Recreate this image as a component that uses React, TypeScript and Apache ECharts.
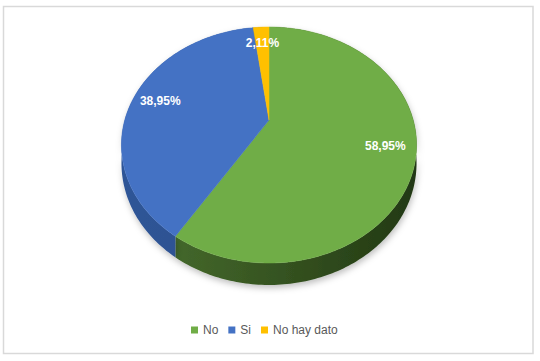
import React, { useEffect, useRef } from "react";
import * as echarts from "echarts";

const categories = ["No", "Si", "No hay dato"];
const values = [58.95, 38.95, 2.11];
const topColors = ["#70ad47", "#4472c4", "#ffc000"];
const sideColorsLeft = ["#4b7230", "#2f5597", "#c99700"];
const sideColorsRight = ["#223813", "#27487f", "#a07800"];

// projection parameters (perspective disc)
const CX = 269;
const CY = 120;
const AX = 144.2;
const BY = 112.7;
const K = -0.212;
const DEPTH = 17.3;

function proj(phiDeg: number, r: number, dz: number): number[] {
  const p = (phiDeg * Math.PI) / 180;
  const u = r * Math.sin(p);
  const v = -r * Math.cos(p);
  const den = 1 + K * v;
  return [CX + (AX * u) / den, CY + (BY * v + dz) / den];
}

function arc(a0: number, a1: number, dz: number): number[][] {
  const pts: number[][] = [];
  const n = Math.max(2, Math.ceil((a1 - a0) / 1));
  for (let i = 0; i <= n; i++) {
    pts.push(proj(a0 + ((a1 - a0) * i) / n, 1, dz));
  }
  return pts;
}

export default function App() {
  const ref = useRef<HTMLDivElement>(null);
  useEffect(() => {
    if (!ref.current) return;
    const chart = echarts.init(ref.current, undefined, { renderer: "svg" });
    const total = values.reduce((a, b) => a + b, 0);
    const starts: number[] = [];
    let acc = 0;
    values.forEach((v) => {
      starts.push((acc / total) * 360);
      acc += v;
    });

    const series = categories.map((name, idx) => ({
      type: "custom",
      name,
      coordinateSystem: "none",
      itemStyle: { color: topColors[idx] },
      data: [[values[idx]]],
      renderItem: (params: any, api: any) => {
        const val = api.value(0);
        const a0 = starts[idx];
        const a1 = a0 + (val / total) * 360;
        const topArc = arc(a0, a1, 0);
        const botArc = arc(a0, a1, DEPTH).reverse();
        const wall = topArc.concat(botArc);
        const face = [[CX, CY]].concat(topArc);
        const mid = (a0 + a1) / 2;
        const lp = proj(mid, 0.8, 0);
        const label = val.toFixed(2).replace(".", ",") + "%";
        return {
          type: "group",
          children: [
            {
              type: "polygon",
              z2: 0,
              shape: { points: wall },
              style: {
                fill: new echarts.graphic.LinearGradient(
                  CX - AX * 1.03,
                  0,
                  CX + AX * 1.03,
                  0,
                  [
                    { offset: 0, color: sideColorsLeft[idx] },
                    { offset: 1, color: sideColorsRight[idx] },
                  ],
                  true
                ),
                stroke: "none",
                shadowBlur: 6,
                shadowColor: "rgba(0,0,0,0.25)",
                shadowOffsetY: 3,
                shadowOffsetX: 1,
              },
            },
            {
              type: "polygon",
              z2: 10,
              shape: { points: face },
              style: { fill: topColors[idx], stroke: topColors[idx], lineWidth: 0.5 },
            },
            {
              type: "text",
              z2: 20,
              x: lp[0],
              y: lp[1],
              style: {
                text: label,
                fill: "#ffffff",
                font: "bold 12px 'Liberation Sans', Arial, sans-serif",
                align: "center",
                verticalAlign: "middle",
                textAlign: "center",
                textVerticalAlign: "middle",
              },
            },
          ],
        };
      },
    }));

    chart.setOption({
      animation: false,
      backgroundColor: "#ffffff",
      legend: {
        data: categories,
        left: 191,
        top: 324,
        padding: 0,
        icon: "rect",
        itemWidth: 7,
        itemHeight: 7,
        itemGap: 10,
        textStyle: {
          color: "#595959",
          fontSize: 12,
          fontFamily: "'Liberation Sans', Arial, sans-serif",
        },
        selectedMode: false,
      },
      graphic: [
        {
          type: "rect",
          shape: { x: 3.5, y: 6.5, width: 529.5, height: 347 },
          style: { fill: "none", stroke: "#d9d9d9", lineWidth: 1.5 },
          silent: true,
        },
      ],
      series,
    });
    return () => chart.dispose();
  }, []);
  return (
    <div
      ref={ref}
      style={{ position: "fixed", left: 0, top: 0, width: 540, height: 361 }}
    />
  );
}
